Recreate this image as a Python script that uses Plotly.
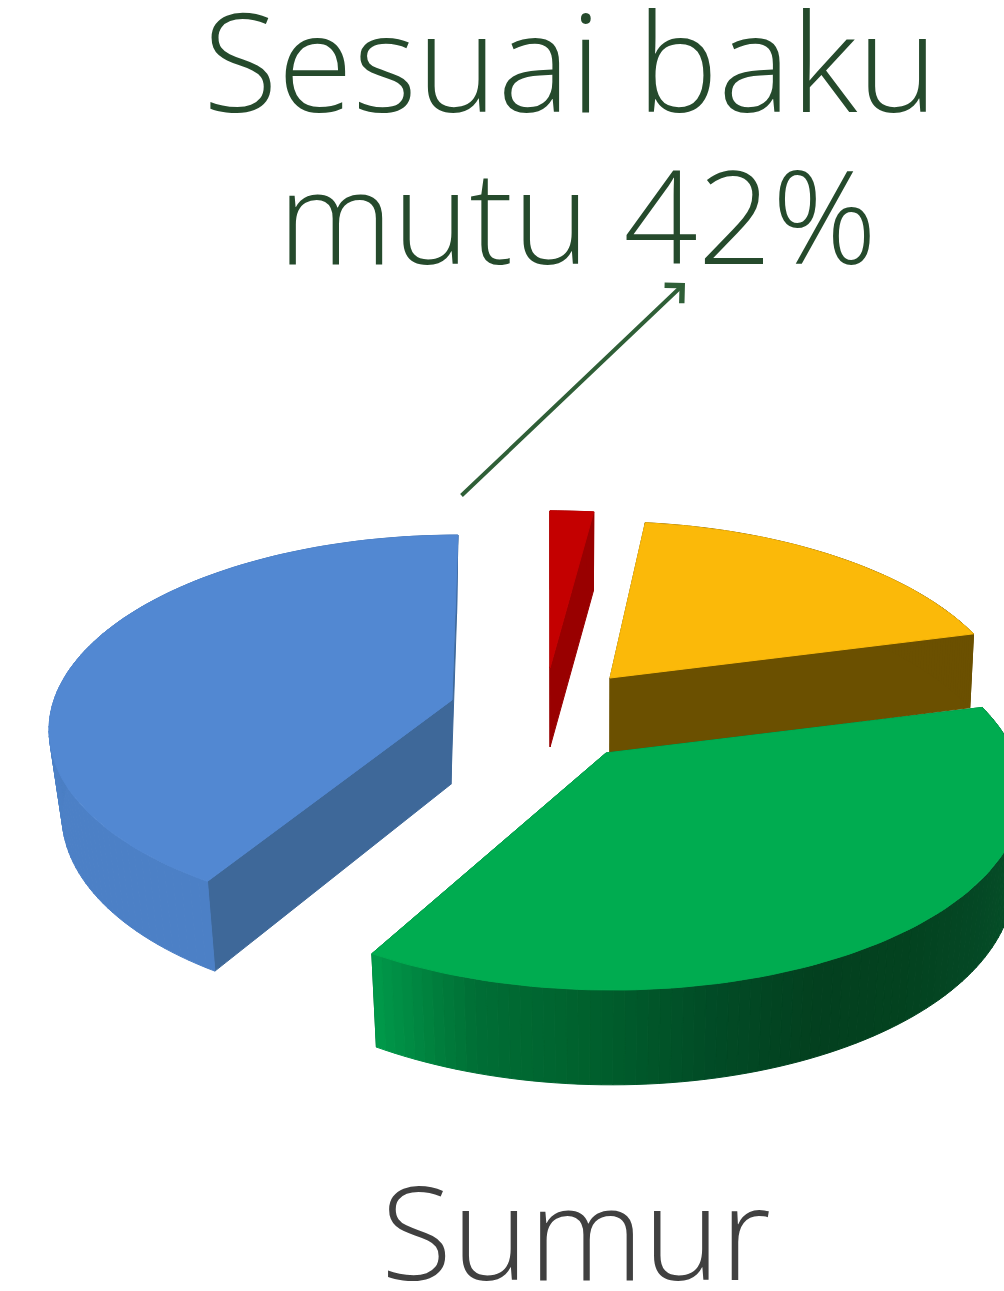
import math
import plotly.graph_objects as go

# ---- data -----------------------------------------------------------
categories = ["Merah", "Kuning", "Hijau", "Sesuai baku mutu"]
values = [2, 19, 37, 42]
title_lines = ["Sesuai baku", "mutu 42%"]
caption = "Sumur"

# ---- styling / 3-D look (per slice) ----------------------------------
W, H = 1004, 1291
style = {
    "Merah": dict(c=(550, 668), rx=415, ry=187, k=.19, vx=550, rot=(0, 0), depth=73, p=0, v=(560, .99),
                  top="#c40000", side="#990000", wall=["#990000", "#990000"]),
    "Kuning": dict(c=(610, 678), rx=395, ry=186, k=.19, vx=570, rot=(0, 0), depth=70, p=.5, v=(600, .99),
                   top="#fbb909", side="#6b5000", wall=["#6b5000", "#6b5000"]),
    "Hijau": dict(c=(606, 753), rx=408, ry=192, k=.19, vx=580, rot=(0, .5), depth=79, p=.5, v=(600, .98),
                  top="#00ac50", side="#006a30",
                  wall=["#06592c", "#06592c", "#065229", "#054d27", "#044724", "#03421f",
                        "#03401f", "#014c26", "#00602d", "#006e35", "#009a4a"]),
    "Sesuai baku mutu": dict(c=(452, 700), rx=398, ry=188, k=.14, vx=500, rot=(3, 0), depth=78, p=.5, v=(420, .965),
                             top="#5288d2", side="#3e6899",
                             wall=["#4c80c6", "#4c80c6", "#4577b8", "#3f6ca6"]),
}
ORDER = ["Kuning", "Merah", "Sesuai baku mutu", "Hijau"]


def hexrgb(h):
    return tuple(int(h[i:i + 2], 16) for i in (1, 3, 5))


def ramp(stops, t):
    p = t * (len(stops) - 1)
    i = min(int(p), len(stops) - 2)
    a, b = hexrgb(stops[i]), hexrgb(stops[i + 1])
    f = p - i
    return "#%02x%02x%02x" % tuple(round(a[j] + (b[j] - a[j]) * f) for j in range(3))


def project(st, deg, frac):
    r0, r1 = st["rot"]
    th = math.radians(deg + r0 + (r1 - r0) * frac)
    X, Y = math.sin(th), math.cos(th)
    s = 1 / (1 + st["k"] * Y)
    cx, cy = st["c"]
    x = cx + (cx - st["vx"]) * (s - 1) + X * st["rx"] * s
    y = cy - Y * st["ry"] * s
    return x, y, s


def drop(st, x, y, s):
    vx, t = st["v"]
    return vx + (x - vx) * t, y + st["depth"] * s ** st["p"] * 1.08


fig = go.Figure()


def poly(xs, ys, color, name):
    fig.add_trace(go.Scatter(x=xs, y=ys, mode="lines", fill="toself", fillcolor=color,
                             line=dict(color=color, width=1), hoverinfo="skip", name=name))


edges, acc = {}, 0
for cat, v in zip(categories, values):
    edges[cat] = (acc * 3.6, (acc + v) * 3.6)
    acc += v

for cat in ORDER:
    st = style[cat]
    a0, a1 = edges[cat]
    cx, cy = st["c"]
    cb = drop(st, cx, cy, 1)
    n = 100 if a1 - a0 > 20 else 6
    rim = [project(st, a0 + (a1 - a0) * i / n, i / n) for i in range(n + 1)]
    low = [drop(st, *p) for p in rim]
    # flat sides
    for j in (0, n):
        poly([cx, rim[j][0], low[j][0], cb[0], cx], [cy, rim[j][1], low[j][1], cb[1], cy],
             st["side"], cat)
    # outer wall
    for i in range(n):
        poly([rim[i][0], rim[i + 1][0], low[i + 1][0], low[i][0], rim[i][0]],
             [rim[i][1], rim[i + 1][1], low[i + 1][1], low[i][1], rim[i][1]],
             ramp(st["wall"], (i + .5) / n), cat)
    # top surface
    poly([cx] + [p[0] for p in rim] + [cx], [cy] + [p[1] for p in rim] + [cy], st["top"], cat)

TXT = "Open Sans"
GREEN = "#254a2c"
notes = [
    dict(text=title_lines[0], x=570, y=118, size=137, color=GREEN),
    dict(text=title_lines[1], x=577, y=268, size=130, color=GREEN),
    dict(text=caption, x=576, y=1284, size=130, color="#404040"),
]
anns = [dict(text=a["text"], x=a["x"], y=a["y"], xref="x", yref="y", showarrow=False,
             xanchor="center", yanchor="bottom", yshift=-36,
             font=dict(family=TXT, size=a["size"], color=a["color"], weight=300)) for a in notes]
anns.append(dict(x=685, y=283, ax=460, ay=497, xref="x", yref="y", axref="x", ayref="y", text="",
                 showarrow=True, arrowhead=4, arrowsize=1.2, arrowwidth=4, arrowcolor="#2f5f37"))

fig.update_layout(width=W, height=H, margin=dict(l=0, r=0, t=0, b=0), showlegend=False,
                  paper_bgcolor="white", plot_bgcolor="white", annotations=anns,
                  xaxis=dict(range=[0, W], visible=False, fixedrange=True),
                  yaxis=dict(range=[H, 0], visible=False, fixedrange=True))
fig.write_html("out.html", config=dict(displayModeBar=False),
               post_script="document.body.style.margin='0';document.body.style.overflow='hidden';")
